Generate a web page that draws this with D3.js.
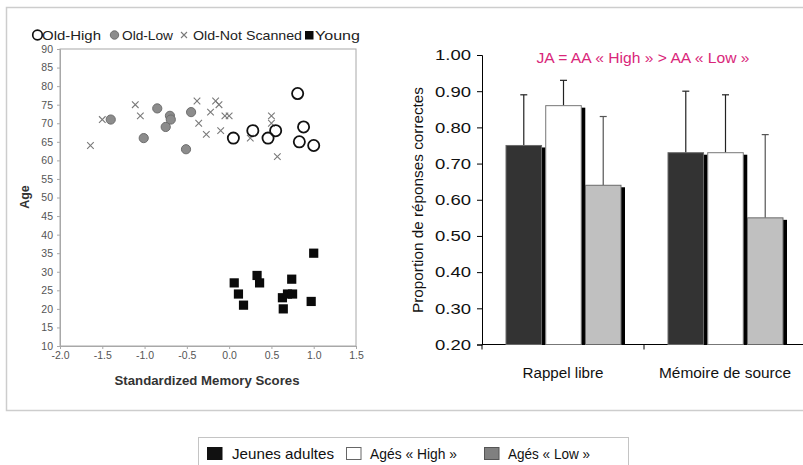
<!DOCTYPE html>
<html>
<head>
<meta charset="utf-8">
<script src="https://cdn.jsdelivr.net/npm/d3@7"></script>
<style>
  html, body { margin: 0; padding: 0; background: #fff; overflow: hidden; }
  svg { display: block; font-family: Arial, "Liberation Sans", sans-serif; }
</style>
</head>
<body>
<svg id="chart" width="803" height="465"></svg>
<script>
// ---------- Scatter data (Standardized Memory Score, Age) ----------
const oldHighPoints = [[0.81,78],[0.05,66],[0.28,68],[0.46,66],[0.55,68],[0.88,69],[0.83,65],[1.00,64]];
const oldLowPoints = [[-1.40,71],[-0.85,74],[-0.70,72],[-0.69,71],[-0.75,69],[-1.01,66],[-0.45,73],[-0.51,63]];
const oldNotScannedPoints = [[-1.64,64],[-1.50,71],[-1.11,75],[-1.05,72],[-0.38,76],[-0.36,70],[-0.27,67],[-0.22,73],
  [-0.16,76],[-0.12,75],[-0.10,68],[-0.05,72],[0.00,72],[0.25,66],[0.50,72],[0.50,70],[0.57,61]];
const youngPoints = [[0.06,27],[0.11,24],[0.17,21],[0.33,29],[0.36,27],[0.63,23],[0.64,20],[0.69,24],
  [0.74,28],[0.75,24],[0.97,22],[1.00,35]];
const scatterXTicks = [-2.0,-1.5,-1.0,-0.5,0.0,0.5,1.0,1.5];
const scatterYTicks = [10,15,20,25,30,35,40,45,50,55,60,65,70,75,80,85,90];
const scatterLegend = ["Old-High","Old-Low","Old-Not Scanned","Young"];

// ---------- Bar data ----------
const categories = ["Rappel libre","Mémoire de source"];
const seriesNames = ["Jeunes adultes","Agés « High »","Agés « Low »"];
const youngMeans = [0.75, 0.73];
const highMeans  = [0.86, 0.73];
const lowMeans   = [0.64, 0.55];
const youngUpper = [0.89, 0.90];
const highUpper  = [0.93, 0.89];
const lowUpper   = [0.83, 0.78];
const barYTicks = [0.20,0.30,0.40,0.50,0.60,0.70,0.80,0.90,1.00];
const annotation = "JA = AA « High » > AA « Low »";

const svg = d3.select("#chart");

// outer frame (top, left, bottom edges; right edge lies beyond the canvas)
svg.append("path").attr("d","M820,7.5H6.5V410.5H820")
  .attr("fill","none").attr("stroke","#cdcdcd").attr("stroke-width",1.5);

// ================= SCATTER =================
const sx = d3.scaleLinear().domain([-2,1.5]).range([60,356]);
const sy = d3.scaleLinear().domain([10,90]).range([346,49]);
const sc = svg.append("g");

sc.append("rect").attr("x",sx(-2)).attr("y",sy(90)).attr("width",sx(1.5)-sx(-2)).attr("height",sy(10)-sy(90))
  .attr("fill","none").attr("stroke","#a8a8a8").attr("stroke-width",1);

const syAxis = sc.append("g").attr("transform",`translate(${sx(-2)},0)`)
  .call(d3.axisLeft(sy).tickValues(scatterYTicks).tickSize(3).tickPadding(4).tickFormat(d=>d));
const sxAxis = sc.append("g").attr("transform",`translate(0,${sy(10)})`)
  .call(d3.axisBottom(sx).tickValues(scatterXTicks).tickSize(3).tickPadding(3).tickFormat(d=>d.toFixed(1)));
[syAxis,sxAxis].forEach(a=>{
  a.select(".domain").attr("stroke","#a8a8a8");
  a.selectAll(".tick line").attr("stroke","#a8a8a8");
  a.selectAll("text").attr("fill","#555").attr("font-size",10.5).attr("font-family","Arial, 'Liberation Sans', sans-serif");
});

sc.append("text").attr("x",207).attr("y",385).attr("text-anchor","middle")
  .attr("font-weight","bold").attr("font-size",12.5).attr("fill","#333")
  .attr("textLength",185).attr("lengthAdjust","spacingAndGlyphs")
  .text("Standardized Memory Scores");
sc.append("text").attr("transform","translate(29,197) rotate(-90)").attr("text-anchor","middle")
  .attr("font-weight","bold").attr("font-size",12.5).attr("fill","#333").text("Age");

// crosses
const crossSize = 3.3;
sc.append("g").selectAll("path").data(oldNotScannedPoints).join("path")
  .attr("d",d=>{const x=sx(d[0]),y=sy(d[1]),s=crossSize;return `M${x-s},${y-s}L${x+s},${y+s}M${x-s},${y+s}L${x+s},${y-s}`;})
  .attr("stroke","#7a7a7a").attr("stroke-width",1.1).attr("fill","none");
// grey circles
sc.append("g").selectAll("circle").data(oldLowPoints).join("circle")
  .attr("cx",d=>sx(d[0])).attr("cy",d=>sy(d[1])).attr("r",4.6)
  .attr("fill","#8c8c8c").attr("stroke","#6e6e6e").attr("stroke-width",1);
// open circles
sc.append("g").selectAll("circle").data(oldHighPoints).join("circle")
  .attr("cx",d=>sx(d[0])).attr("cy",d=>sy(d[1])).attr("r",5.6)
  .attr("fill","none").attr("stroke","#111").attr("stroke-width",1.8);
// squares
sc.append("g").selectAll("rect").data(youngPoints).join("rect")
  .attr("x",d=>sx(d[0])-4.6).attr("y",d=>sy(d[1])-4.6).attr("width",9.2).attr("height",9.2)
  .attr("fill","#0a0a0a");

// scatter legend
const lg = sc.append("g").attr("font-size",13.5).attr("fill","#222");
const legPos = [{m:37.5,t:42,w:59},{m:114.5,t:122,w:51},{m:184,t:193,w:109},{m:309,t:315,w:45}];
legPos.forEach((p,i)=>{
  if(i===0) lg.append("circle").attr("cx",p.m).attr("cy",35).attr("r",4.8).attr("fill","none").attr("stroke","#111").attr("stroke-width",1.7);
  if(i===1) lg.append("circle").attr("cx",p.m).attr("cy",35).attr("r",4.2).attr("fill","#8c8c8c").attr("stroke","#6e6e6e");
  if(i===2) lg.append("path").attr("d",`M${p.m-3},${32}L${p.m+3},${38}M${p.m-3},${38}L${p.m+3},${32}`).attr("stroke","#7a7a7a").attr("stroke-width",1.1);
  if(i===3) lg.append("rect").attr("x",p.m-4).attr("y",31).attr("width",8.5).attr("height",8.5).attr("fill","#0a0a0a");
  lg.append("text").attr("x",p.t).attr("y",40).attr("textLength",p.w).attr("lengthAdjust","spacingAndGlyphs").text(scatterLegend[i]);
});

// ================= BAR CHART =================
const by = d3.scaleLinear().domain([0.2,1.0]).range([344.5,55]);
const bx = d3.scaleBand().domain(categories).range([482,806]);
const bi = d3.scaleBand().domain(seriesNames).range([24,139]).paddingInner(0.105);
const bc = svg.append("g");

const yAx = bc.append("g").attr("transform","translate(482,0)")
  .call(d3.axisLeft(by).tickValues(barYTicks).tickSize(5).tickPadding(6).tickFormat(d=>d.toFixed(2)));
yAx.select(".domain").attr("stroke","#000");
yAx.selectAll(".tick line").attr("stroke","#000");
yAx.selectAll("text").attr("font-size",15).attr("fill","#111")
  .attr("font-family","Arial, 'Liberation Sans', sans-serif")
  .attr("textLength",36).attr("lengthAdjust","spacingAndGlyphs");

// x axis line with category boundary ticks
bc.append("line").attr("x1",482).attr("x2",bx.range()[1]).attr("y1",by(0.2)).attr("y2",by(0.2)).attr("stroke","#000");
bc.append("g").selectAll("line").data(categories.slice(1)).join("line")
  .attr("x1",d=>bx(d)).attr("x2",d=>bx(d)).attr("y1",by(0.2)).attr("y2",by(0.2)+5).attr("stroke","#000");
bc.append("line").attr("x1",482).attr("x2",482).attr("y1",by(0.2)).attr("y2",by(0.2)+5).attr("stroke","#000");

const catLabelW = [81,132];
bc.append("g").selectAll("text").data(categories).join("text")
  .attr("x",d=>bx(d)+bx.bandwidth()/2).attr("y",378).attr("text-anchor","middle")
  .attr("font-size",14).attr("fill","#111")
  .attr("textLength",(d,i)=>catLabelW[i]).attr("lengthAdjust","spacingAndGlyphs").text(d=>d);

bc.append("text").attr("transform","translate(423,200) rotate(-90)").attr("text-anchor","middle")
  .attr("font-size",14).attr("fill","#111").attr("textLength",226).attr("lengthAdjust","spacingAndGlyphs")
  .text("Proportion de réponses correctes");

bc.append("text").attr("x",643).attr("y",63).attr("text-anchor","middle").attr("font-size",14)
  .attr("fill","#d9267a").attr("textLength",213).attr("lengthAdjust","spacingAndGlyphs").text(annotation);

const meansBySeries = [youngMeans, highMeans, lowMeans];
const upperBySeries = [youngUpper, highUpper, lowUpper];
const fills = ["#333333","#ffffff","#c0c0c0"];
const strokes = ["#6a6a6a","#777777","#6a6a6a"];
const errColors = ["#222","#222","#555"];
const barRows = [];
seriesNames.forEach((s,si)=>categories.forEach((c,ci)=>{
  barRows.push({s, c, si, v:meansBySeries[si][ci], u:upperBySeries[si][ci]});
}));
// shadows
bc.append("g").selectAll("rect").data(barRows).join("rect")
  .attr("x",d=>bx(d.c)+bi(d.s)+4).attr("y",d=>by(d.v)+2)
  .attr("width",bi.bandwidth()).attr("height",d=>by(0.2)-by(d.v)-2).attr("fill","#000");
// error bars
const eb = bc.append("g").selectAll("g").data(barRows).join("g");
eb.append("line").attr("x1",d=>bx(d.c)+bi(d.s)+bi.bandwidth()/2).attr("x2",d=>bx(d.c)+bi(d.s)+bi.bandwidth()/2)
  .attr("y1",d=>by(d.v)).attr("y2",d=>by(d.u)).attr("stroke",d=>errColors[d.si]).attr("stroke-width",1.2);
eb.append("line").attr("x1",d=>bx(d.c)+bi(d.s)+bi.bandwidth()/2-3.5).attr("x2",d=>bx(d.c)+bi(d.s)+bi.bandwidth()/2+3.5)
  .attr("y1",d=>by(d.u)).attr("y2",d=>by(d.u)).attr("stroke",d=>errColors[d.si]).attr("stroke-width",1.2);
// bars
bc.append("g").selectAll("rect").data(barRows).join("rect")
  .attr("x",d=>bx(d.c)+bi(d.s)).attr("y",d=>by(d.v))
  .attr("width",bi.bandwidth()).attr("height",d=>by(0.2)-by(d.v))
  .attr("fill",d=>fills[d.si]).attr("stroke",d=>strokes[d.si]).attr("stroke-width",1);

// ================= BOTTOM LEGEND =================
svg.append("rect").attr("x",198.5).attr("y",437.5).attr("width",430).attr("height",40)
  .attr("fill","#fff").attr("stroke","#c4c4c4").attr("stroke-width",1);
const legFills = ["#111111","#ffffff","#808080"];
const legStrokes = ["#111","#666","#555"];
const legX = [{b:207,t:232,w:102},{b:346,t:370,w:87},{b:484,t:508,w:82}];
const bl = svg.append("g");
seriesNames.forEach((s,i)=>{
  bl.append("rect").attr("x",legX[i].b+0.5).attr("y",447.5).attr("width",14.5).attr("height",12)
    .attr("fill",legFills[i]).attr("stroke",legStrokes[i]);
  bl.append("text").attr("x",legX[i].t).attr("y",458.5).attr("font-size",15).attr("fill","#111")
    .attr("textLength",legX[i].w).attr("lengthAdjust","spacingAndGlyphs").text(s);
});
</script>
</body>
</html>
